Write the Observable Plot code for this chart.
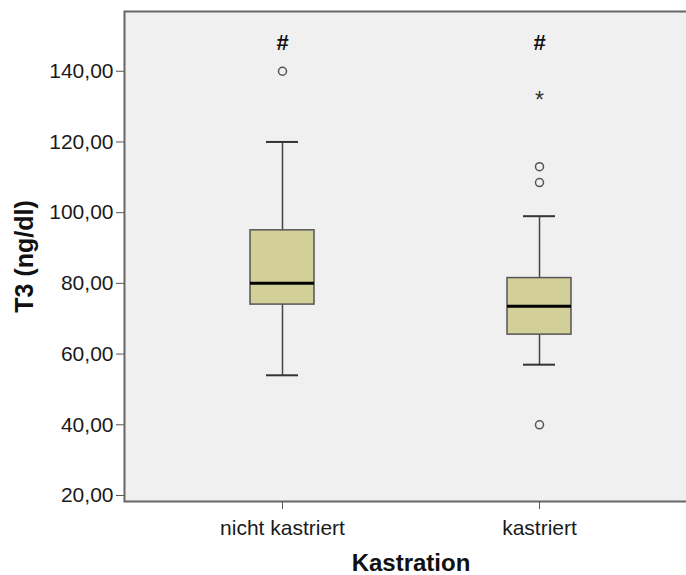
<!DOCTYPE html>
<html><head><meta charset="utf-8">
<script src="https://cdn.jsdelivr.net/npm/d3@7"></script>
<script src="https://cdn.jsdelivr.net/npm/@observablehq/plot@0.6"></script>
<style>
html,body{margin:0;padding:0;background:#fff;overflow:hidden;}
#chart{width:686px;height:575px;overflow:hidden;}
#chart svg{max-width:none !important;width:697px !important;height:575px !important;}
</style></head><body><div id="chart"></div>
<script>
const groups = ["nicht kastriert", "kastriert"];
const whiskerLow = [54, 57];
const q1 = [74, 65.5];
const median = [80, 73.5];
const q3 = [95, 81.5];
const whiskerHigh = [120, 99];
const outlierGroup = ["nicht kastriert", "kastriert", "kastriert", "kastriert"];
const outlierValue = [140, 113, 108.5, 40];
const extremeGroup = ["kastriert"];
const extremeValue = [132.5];
const markerGroup = ["nicht kastriert", "kastriert"];
const markerLabel = ["#", "#"];
const markerValue = [148, 148];
const yTicks = [20, 40, 60, 80, 100, 120, 140];
const xTitle = "Kastration";
const yTitle = "T3 (ng/dl)";

const boxes = groups.map((g, i) => ({group: g, lo: whiskerLow[i], q1: q1[i], median: median[i], q3: q3[i], hi: whiskerHigh[i]}));
const outliers = outlierGroup.map((g, i) => ({group: g, value: outlierValue[i]}));
const extremes = extremeGroup.map((g, i) => ({group: g, value: extremeValue[i]}));
const markers = markerGroup.map((g, i) => ({group: g, value: markerValue[i], label: markerLabel[i]}));

const chart = Plot.plot({
  width: 697, height: 575,
  marginLeft: 124, marginRight: 0, marginTop: 11, marginBottom: 74,
  style: {fontFamily: "'Liberation Sans', Arial, sans-serif", fontSize: "21px", color: "#1a1a1a", background: "#fff", overflow: "visible"},
  x: {domain: groups, paddingInner: 0.75, paddingOuter: 0.4875, label: null},
  y: {domain: [18.3, 156.9], label: null},
  marks: [
    Plot.frame({fill: "#f0f0f0", stroke: "#666", strokeWidth: 2}),
    Plot.axisY({ticks: yTicks, tickFormat: d => d.toFixed(2).replace(".", ","), tickSize: 8, tickPadding: 3, stroke: "#555", label: null}),
    Plot.axisX({tickSize: 8, tickPadding: 11, stroke: "#555", label: null}),
    Plot.ruleX(boxes, {x: "group", y1: "lo", y2: "hi", stroke: "#444", strokeWidth: 1.5}),
    Plot.tickY(boxes, {x: "group", y: "lo", insetLeft: 16, insetRight: 16, stroke: "#333", strokeWidth: 2}),
    Plot.tickY(boxes, {x: "group", y: "hi", insetLeft: 16, insetRight: 16, stroke: "#333", strokeWidth: 2}),
    Plot.barY(boxes, {x: "group", y1: "q1", y2: "q3", fill: "#d3cf99", stroke: "#555", strokeWidth: 1.5}),
    Plot.tickY(boxes, {x: "group", y: "median", stroke: "#000", strokeWidth: 3}),
    Plot.dot(outliers, {x: "group", y: "value", r: 4, stroke: "#555", strokeWidth: 1.5, fill: "#f0f0f0"}),
    Plot.text(extremes, {x: "group", y: "value", text: () => "*", fontSize: 23, dy: 3, fill: "#333"}),
    Plot.text(markers, {x: "group", y: "value", text: "label", fontSize: 22, fontWeight: "bold", fill: "#111"}),
    Plot.text([yTitle], {frameAnchor: "left", text: d => d, rotate: -90, dx: -100, textAnchor: "middle", lineAnchor: "middle", fontSize: 25, fontWeight: "bold", fill: "#111"}),
    Plot.text([xTitle], {frameAnchor: "bottom", text: d => d, dy: 62, lineAnchor: "middle", fontSize: 24, fontWeight: "bold", fill: "#111"})
  ]
});
document.getElementById("chart").appendChild(chart);
</script>
</body></html>
